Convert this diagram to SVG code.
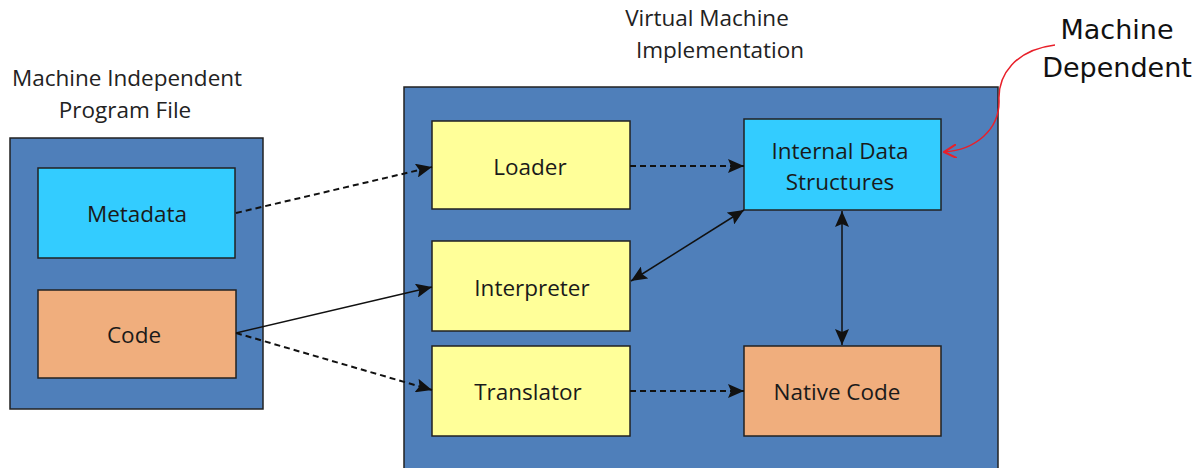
<svg xmlns="http://www.w3.org/2000/svg" width="1203" height="468" viewBox="0 0 1203 468">
<style>
.box{stroke:#222;stroke-width:1.5}
.outer{fill:#4f7fba;stroke:#222;stroke-width:1.5}
.cyan{fill:#33ccff}
.orange{fill:#f0ae7d}
.yellow{fill:#ffff99}
.t{font-family:"Open Sans","Liberation Sans",sans-serif;font-size:22.5px;fill:#1a1a1a;text-anchor:middle}
.hdr{font-family:"Open Sans","Liberation Sans",sans-serif;font-size:22.5px;fill:#222;text-anchor:middle}
.c{fill:none;stroke:#111;stroke-width:1.5}
.d{stroke-dasharray:6,4;stroke-width:2}
.hand{font-family:"Comic Sans MS","DejaVu Sans",sans-serif;font-size:27px;fill:#111;text-anchor:middle}
</style>
<defs>
<marker id="ah" viewBox="0 0 16 14" refX="16" refY="7" markerWidth="16" markerHeight="14" markerUnits="userSpaceOnUse" orient="auto-start-reverse">
<path d="M0,0 L16,7 L0,14 L3,7 z" fill="#111"/>
</marker>
<marker id="ahr" viewBox="0 0 10 10" refX="9" refY="5" markerWidth="14" markerHeight="14" markerUnits="userSpaceOnUse" orient="auto">
<path d="M0,0 L9,5 L0,10" fill="none" stroke="#e8202a" stroke-width="1.5"/>
</marker>
</defs>
<rect width="1203" height="468" fill="#fff"/>
<g id="titles">
<text class="hdr" x="127" y="86">Machine Independent</text>
<text class="hdr" x="125" y="118">Program File</text>
<text class="hdr" x="707" y="26">Virtual Machine</text>
<text class="hdr" x="720" y="58">Implementation</text>
</g>
<g id="program-file"><rect class="outer" x="10" y="138" width="253" height="271"/></g>
<g id="vm"><rect class="outer" x="404" y="87" width="594" height="390"/></g>
<g id="metadata"><rect class="box cyan" x="38" y="168" width="197" height="90"/><text class="t" x="137" y="222">Metadata</text></g>
<g id="code"><rect class="box orange" x="38" y="290" width="198" height="88"/><text class="t" x="134" y="343">Code</text></g>
<g id="loader"><rect class="box yellow" x="432" y="121" width="198" height="88"/><text class="t" x="530" y="175">Loader</text></g>
<g id="interpreter"><rect class="box yellow" x="432" y="241" width="198" height="90"/><text class="t" x="532" y="296">Interpreter</text></g>
<g id="translator"><rect class="box yellow" x="432" y="346" width="198" height="90"/><text class="t" x="528" y="400">Translator</text></g>
<g id="internal"><rect class="box cyan" x="744" y="119" width="197" height="91"/><text class="t" x="840" y="159">Internal Data</text><text class="t" x="840" y="190">Structures</text></g>
<g id="native"><rect class="box orange" x="744" y="346" width="197" height="90"/><text class="t" x="837" y="400">Native Code</text></g>
<g id="connectors">
<line class="c d" x1="236" y1="213" x2="432" y2="167" marker-end="url(#ah)"/>
<line class="c d" x1="630" y1="166" x2="744" y2="166" marker-end="url(#ah)"/>
<line class="c" x1="236" y1="333" x2="432" y2="287" marker-end="url(#ah)"/>
<line class="c d" x1="236" y1="333" x2="432" y2="390" marker-end="url(#ah)"/>
<line class="c d" x1="630" y1="391" x2="744" y2="391" marker-end="url(#ah)"/>
<line class="c" x1="631" y1="281" x2="744" y2="210" marker-start="url(#ah)" marker-end="url(#ah)"/>
<line class="c" x1="842" y1="211" x2="842" y2="345" marker-start="url(#ah)" marker-end="url(#ah)"/>
<path d="M1055,45 C1015,50 998,75 999,100 C1000,130 975,150 944,152" fill="none" stroke="#e8202a" stroke-width="1.5" marker-end="url(#ahr)"/>
</g>
<g id="machine-dependent">
<text class="hand" x="1117" y="39">Machine</text>
<text class="hand" x="1117" y="77">Dependent</text>
</g>
</svg>
